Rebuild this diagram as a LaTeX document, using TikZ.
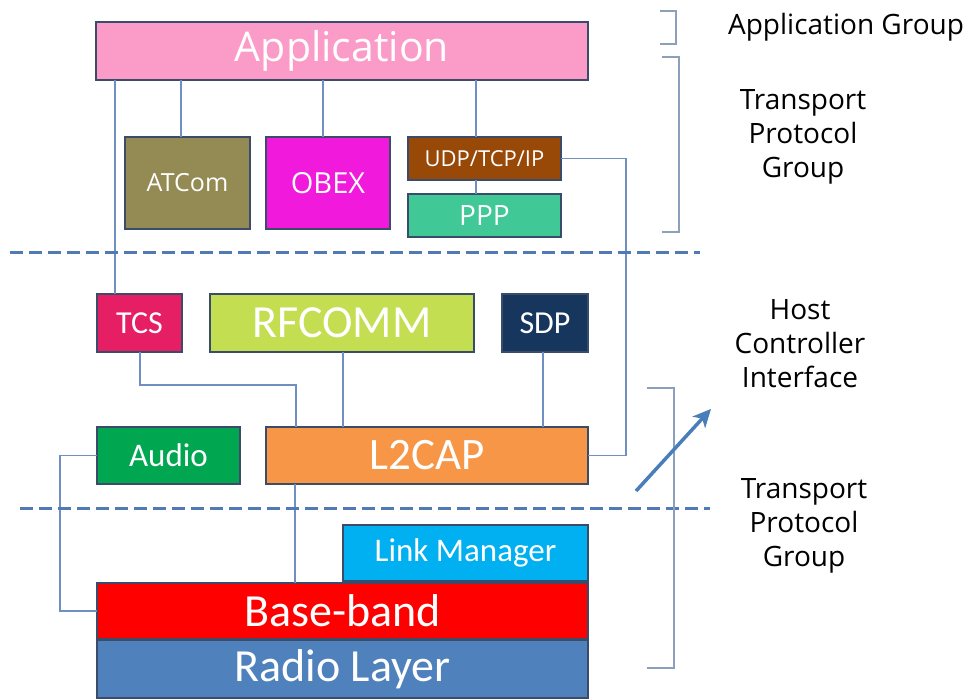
\documentclass[tikz,border=0pt]{standalone}
\usepackage{fontspec}
\setmainfont{Open Sans}
\newfontfamily\segfont{Open Sans}
\newfontfamily\calfont{Carlito}
\usetikzlibrary{arrows.meta}

% layer fills
\definecolor{cApp}{RGB}{250,155,200}
\definecolor{cAtc}{RGB}{148,138,84}
\definecolor{cObex}{RGB}{240,25,220}
\definecolor{cUdp}{RGB}{152,72,7}
\definecolor{cPpp}{RGB}{64,200,150}
\definecolor{cTcs}{RGB}{230,30,100}
\definecolor{cRfc}{RGB}{195,222,80}
\definecolor{cSdp}{RGB}{23,54,93}
\definecolor{cAudio}{RGB}{0,166,80}
\definecolor{cLtwo}{RGB}{247,150,70}
\definecolor{cLm}{RGB}{0,176,240}
\definecolor{cBb}{RGB}{255,0,0}
\definecolor{cRadio}{RGB}{79,129,189}
% strokes
\definecolor{cEdge}{RGB}{58,76,106}
\definecolor{cWire}{RGB}{110,143,192}
\definecolor{cDash}{RGB}{79,122,182}
\definecolor{cBracket}{RGB}{140,160,185}
\definecolor{cArrow}{RGB}{74,126,187}

\tikzset{
  layer/.style={draw=cEdge, line width=2.4pt, inner sep=0pt, outer sep=0pt,
    text=white, align=center},
  conn/.style={draw=cWire, line width=1.1pt},
  sep/.style={draw=cDash, line width=3pt, dash pattern=on 13pt off 6pt},
  grp/.style={draw=cBracket, line width=1.2pt},
  glabel/.style={align=center, text=black, font=\segfont\fontsize{28}{34}\selectfont},
  harrow/.style={draw=cArrow, line width=3.5pt, -{Stealth[length=18pt,width=17pt,inset=5pt]}}
}

\begin{document}
\begin{tikzpicture}[x=1pt,y=-1pt]
\useasboundingbox (0,0) rectangle (976,700);

% upper stack
\node[layer, fill=cApp, minimum width=492pt, minimum height=58pt,
  font=\segfont\fontsize{41}{43}\selectfont] (app) at (342,51) {Application};
\node[layer, fill=cAtc, minimum width=125pt, minimum height=92pt,
  font=\segfont\fontsize{25}{28}\selectfont] (atc) at (187.5,183) {ATCom};
\node[layer, fill=cObex, minimum width=124pt, minimum height=92pt,
  font=\segfont\fontsize{29}{32}\selectfont] (obex) at (328,183) {OBEX};
\node[layer, fill=cUdp, minimum width=153pt, minimum height=43pt,
  font=\segfont\fontsize{22}{24}\selectfont] (udp) at (484.5,158.5) {UDP/TCP/IP};
\node[layer, fill=cPpp, minimum width=153pt, minimum height=43pt,
  font=\segfont\fontsize{28}{30}\selectfont] (ppp) at (484.5,215.5) {PPP};

% middle stack
\node[layer, fill=cTcs, minimum width=85pt, minimum height=58pt,
  font=\calfont\fontsize{32}{34}\selectfont] (tcs) at (139.5,323) {TCS};
\node[layer, fill=cRfc, minimum width=264pt, minimum height=58pt,
  font=\calfont\fontsize{46}{48}\selectfont] (rfc) at (342,323) {RFCOMM};
\node[layer, fill=cSdp, minimum width=86pt, minimum height=58pt,
  font=\calfont\fontsize{32}{34}\selectfont] (sdp) at (545,323) {SDP};
\node[layer, fill=cAudio, minimum width=143pt, minimum height=57pt,
  font=\calfont\fontsize{33}{35}\selectfont] (audio) at (168.5,455.5) {Audio};
\node[layer, fill=cLtwo, minimum width=322pt, minimum height=57pt,
  font=\calfont\fontsize{45}{48}\selectfont] (ltwo) at (427,455.5) {L2CAP};

% lower stack
\node[layer, fill=cLm, minimum width=245pt, minimum height=56pt,
  font=\calfont\fontsize{33}{35}\selectfont] (lm) at (465.5,553) {Link Manager};
\node[layer, fill=cBb, minimum width=491pt, minimum height=56pt,
  font=\calfont\fontsize{46}{48}\selectfont] (bb) at (342.5,611) {Base-band};
\node[layer, fill=cRadio, minimum width=491pt, minimum height=58pt,
  font=\calfont\fontsize{46}{48}\selectfont] (radio) at (342.5,669) {Radio Layer};

% links between layers
\draw[conn] (app.south -| 115,0) -- (tcs.north -| 115,0);
\draw[conn] (app.south -| 181,0) -- (atc.north -| 181,0);
\draw[conn] (app.south -| 323,0) -- (obex.north -| 323,0);
\draw[conn] (app.south -| 476,0) -- (udp.north -| 476,0);
\draw[conn] (udp.south -| 476,0) -- (ppp.north -| 476,0);
\draw[conn] (udp.east) -- ++(65,0) |- (ltwo.east);
\draw[conn] (tcs.south -| 140,0) -- (140,385) -- (296,385) -- (ltwo.north -| 296,0);
\draw[conn] (rfc.south -| 343,0) -- (ltwo.north -| 343,0);
\draw[conn] (sdp.south -| 543,0) -- (ltwo.north -| 543,0);
\draw[conn] (audio.west) -- (60,455.5) |- (bb.west);
\draw[conn] (ltwo.south -| 295,0) -- (bb.north -| 295,0);

% boundaries between groups
\draw[sep] (10,253) -- (700,253);
\draw[sep] (20,508) -- (710,508);

% group brackets
\draw[grp] (660,11) -- (676,11) -- (676,44) -- (660,44);
\draw[grp] (662,57) -- (679,57) -- (679,232) -- (662,232);
\draw[grp] (647,388) -- (674,388) -- (674,668) -- (647,668);

% host controller interface pointer
\coordinate (hciFrom) at (636,491);
\coordinate (hciTo) at (711,409);
\draw[harrow] (hciFrom) -- (hciTo);

% group labels
\node[glabel] (lApp) at (846,27) {Application Group};
\node[glabel] (lTpgA) at (803,137) {Transport\\Protocol\\Group};
\node[glabel] (lHci) at (800,344) {Host\\Controller\\Interface};
\node[glabel] (lTpgB) at (804,526) {Transport\\Protocol\\Group};
\end{tikzpicture}
\end{document}
